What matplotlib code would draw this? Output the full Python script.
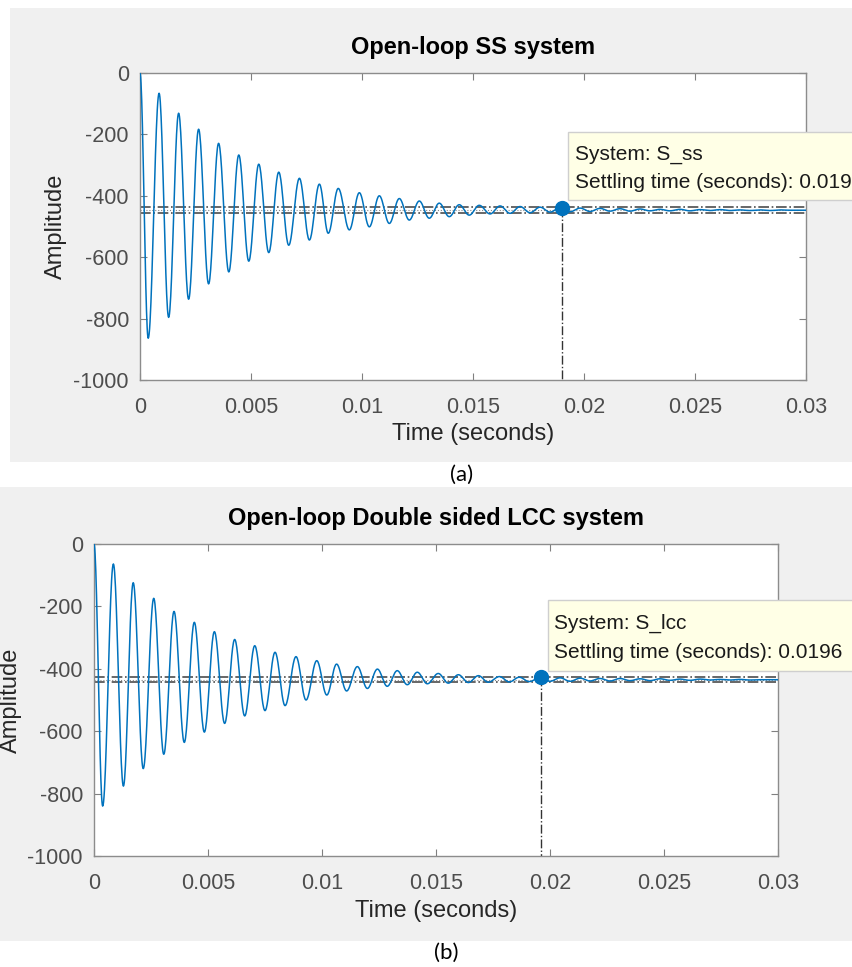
import numpy as np
import matplotlib
matplotlib.use("Agg")
import matplotlib.pyplot as plt
from matplotlib.patches import Rectangle

plt.rcParams['font.family'] = ['Liberation Sans', 'DejaVu Sans']

# ---- data: extrema of each step response (time s, amplitude) ----
ss_t = [0, 0.00037, 0.00086, 0.00129, 0.00174, 0.00219, 0.00264, 0.00309, 0.00354,
        0.00400, 0.00445, 0.00490, 0.00535, 0.00580, 0.00625, 0.00670, 0.00718,
        0.00763, 0.00808, 0.00848, 0.00893, 0.00943, 0.00988, 0.01033, 0.01078,
        0.01123, 0.01168, 0.01213, 0.01258, 0.01303, 0.01348, 0.01393, 0.01438,
        0.01483, 0.01528, 0.01577, 0.01622, 0.01667, 0.01712, 0.01757, 0.01802,
        0.01847, 0.01892, 0.01937, 0.01982, 0.02027, 0.02072, 0.02117, 0.02162,
        0.02207, 0.02252, 0.02297, 0.02342, 0.02387, 0.02432, 0.02477, 0.02522,
        0.02568, 0.02613, 0.02658, 0.02703, 0.02748, 0.02793, 0.02838, 0.02883,
        0.02928, 0.02973, 0.03]
ss_y = [0, -864, -66, -796, -131, -737, -183, -687, -229,
        -648, -267, -613, -297, -585, -323, -561, -343,
        -544, -362, -522, -376, -511, -390, -501, -400,
        -490, -409, -479, -417, -473, -424, -468, -429,
        -463, -431, -459, -433, -457, -435, -455, -437,
        -453, -439, -452, -440, -451, -441, -450, -442,
        -450, -443, -449, -444, -449, -444, -449, -445,
        -448, -445, -448, -446, -448, -446, -448, -446,
        -447, -447, -447]

lcc_t = [0, 0.00038, 0.00085, 0.00129, 0.00172, 0.00216, 0.00262, 0.00306, 0.00351,
         0.00396, 0.00440, 0.00484, 0.00528, 0.00573, 0.00617, 0.00661, 0.00705,
         0.00750, 0.00794, 0.00838, 0.00886, 0.00930, 0.00977, 0.01021, 0.01064,
         0.01108, 0.01155, 0.01199, 0.01243, 0.01286, 0.01330, 0.01374, 0.01418,
         0.01462, 0.01510, 0.01554, 0.01598, 0.01642, 0.01686, 0.01729, 0.01778,
         0.01822, 0.01865, 0.01909, 0.01956, 0.02000, 0.02044, 0.02088, 0.02132,
         0.02175, 0.02219, 0.02263, 0.02307, 0.02351, 0.02395, 0.02439, 0.02482,
         0.02526, 0.02570, 0.02614, 0.02658, 0.02702, 0.02746, 0.02789, 0.02833,
         0.02877, 0.02921, 0.02965, 0.03]
lcc_y = [0, -840, -64, -776, -124, -720, -174, -674, -216,
         -636, -251, -603, -281, -575, -306, -551, -326,
         -534, -347, -518, -361, -500, -374, -484, -385,
         -471, -393, -463, -401, -456, -406, -451, -411,
         -448, -415, -446, -419, -444, -422, -443, -425,
         -442, -427, -441, -428, -440, -429, -440, -430,
         -439, -431, -439, -431, -438, -432, -438, -432,
         -437, -433, -437, -433, -436, -434, -436, -434,
         -436, -435, -435, -435]

final_vals = [-447, -435]          # steady-state value of each system
settle_t = [0.019, 0.0196]         # settling time markers
settle_y = [-440, -427]
titles = ["Open-loop SS system", "Open-loop Double sided LCC system"]
sys_names = ["S_ss", "S_lcc"]
settle_txt = ["0.019", "0.0196"]
captions = ["(a)", "(b)"]

xticks = [0, 0.005, 0.01, 0.015, 0.02, 0.025, 0.03]
xticklabels = ["0", "0.005", "0.01", "0.015", "0.02", "0.025", "0.03"]
yticks = [-1000, -800, -600, -400, -200, 0]
yticklabels = ["-1000", "-800", "-600", "-400", "-200", "0"]

BLUE = '#0072BD'
W, H = 853, 967


def build_curve(te, ye, n=24):
    # smooth half-cosine between successive extrema
    tt, yy = [], []
    for i in range(len(te) - 1):
        s = np.linspace(0, 1, n, endpoint=False)
        tt.append(te[i] + (te[i + 1] - te[i]) * s)
        yy.append(ye[i] + (ye[i + 1] - ye[i]) * (1 - np.cos(np.pi * s)) / 2)
    tt.append([te[-1]])
    yy.append([ye[-1]])
    return np.concatenate(tt), np.concatenate(yy)


def fx(px):
    return px / W


def fy(py):
    return 1 - py / H


fig = plt.figure(figsize=(W / 100, H / 100), dpi=100, facecolor='white')

# grey MATLAB figure panels
fig.patches.append(Rectangle((fx(10), fy(462)), 1.0, 454 / H, transform=fig.transFigure,
                             facecolor='#f0f0f0', edgecolor='none', zorder=-10))
fig.patches.append(Rectangle((fx(0), fy(941)), 1.05, 454 / H, transform=fig.transFigure,
                             facecolor='#f0f0f0', edgecolor='none', zorder=-10))

# axes boxes in pixels: left, top, right, bottom
boxes = [(140, 73, 806, 380), (94, 544, 778, 856)]
ylab_x = [56, 11]
xlab_y = [434, 911]
title_y = [47, 519]
tip_boxes = [(568, 132, 200), (548, 600, 671)]
tip_text_x = [575, 554]
tip_line_y = [(154, 183), (623, 652)]
caption_pos = [(462, 475), (446, 953)]
curves = [(ss_t, ss_y), (lcc_t, lcc_y)]

for k in range(2):
    l, t, r, b = boxes[k]
    ax = fig.add_axes([fx(l), fy(b), (r - l) / W, (b - t) / H])
    ax.set_facecolor('white')

    tc, yc = build_curve(*curves[k])
    ax.plot(tc, yc, color=BLUE, lw=1.1, zorder=3)

    fv = final_vals[k]
    ax.axhline(fv * 0.98, color='#4d4d4d', lw=1.2, ls='-.', zorder=2)
    ax.axhline(fv * 1.02, color='#4d4d4d', lw=1.2, ls='-.', zorder=2)
    ax.axhline(fv, color='#888888', lw=0.8, ls=':', zorder=2)
    ax.plot([settle_t[k], settle_t[k]], [settle_y[k], -1000], color='#333333',
            lw=1.0, ls='-.', zorder=2)
    ax.plot(settle_t[k], settle_y[k], 'o', color=BLUE, ms=10, zorder=5, clip_on=False)

    ax.set_xlim(0, 0.03)
    ax.set_ylim(-1000, 0)
    ax.set_xticks(xticks)
    ax.set_xticklabels(xticklabels)
    ax.set_yticks(yticks)
    ax.set_yticklabels(yticklabels)
    ax.tick_params(direction='in', length=5, width=0.8, colors='#808080',
                   labelcolor='#4d4d4d', labelsize=15.5, top=True, right=True)
    ax.tick_params(axis='x', pad=12)
    ax.tick_params(axis='y', pad=8)
    for sp in ax.spines.values():
        sp.set_color('#8c8c8c')
        sp.set_linewidth(1.0)

    ax.set_ylabel('Amplitude', fontsize=17, color='#262626', va='center')
    ax.yaxis.set_label_coords((ylab_x[k] - l) / (r - l), 0.5)
    ax.set_xlabel('Time (seconds)', fontsize=17, color='#262626', va='center')
    ax.xaxis.set_label_coords(0.5, -(xlab_y[k] - b) / (b - t))
    ax.text(0.5, (t - title_y[k]) / (b - t) + 1, titles[k], transform=ax.transAxes,
            ha='center', va='center', fontsize=17, fontweight='bold', color='black')

    # data tip
    bx, btop, bbot = tip_boxes[k]
    fig.patches.append(Rectangle((fx(bx), fy(bbot)), 1.0, (bbot - btop) / H,
                                 transform=fig.transFigure, facecolor='#ffffe6',
                                 edgecolor='#cfcfcf', lw=1.0, zorder=5))
    fig.text(fx(tip_text_x[k]), fy(tip_line_y[k][0]), 'System: ' + sys_names[k],
             ha='left', va='center', fontsize=15, color='#1a1a1a', zorder=6)
    fig.text(fx(tip_text_x[k]), fy(tip_line_y[k][1]),
             'Settling time (seconds): ' + settle_txt[k],
             ha='left', va='center', fontsize=15, color='#1a1a1a', zorder=6)

    cx, cy = caption_pos[k]
    fig.text(fx(cx), fy(cy), captions[k], ha='center', va='center', fontsize=16,
             family=['Lato', 'DejaVu Sans'], color='black')

fig.savefig('out.png', dpi=100, facecolor='white')
